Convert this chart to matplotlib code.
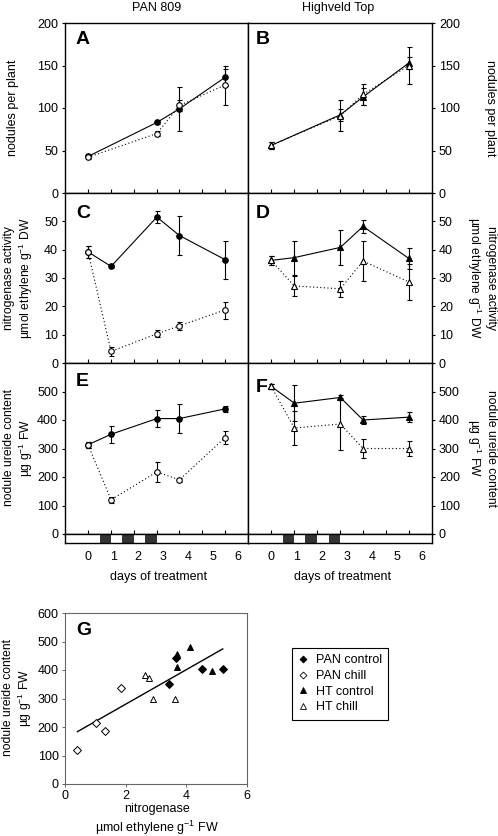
import numpy as np
import matplotlib.pyplot as plt
from matplotlib.lines import Line2D

plt.rcParams['font.family'] = ['Liberation Sans', 'DejaVu Sans']
plt.rcParams['font.size'] = 9
plt.rcParams['mathtext.fontset'] = 'custom'
plt.rcParams['mathtext.rm'] = 'Liberation Sans'
plt.rcParams['mathtext.it'] = 'Liberation Sans:italic'

# sampling days
days = [0, 0.92, 2.75, 3.65, 5.47]
days_nod = [0, 2.75, 3.65, 5.47]
tick_days = [0, 0.92, 1.83, 2.75, 3.65, 4.56, 5.47]
chill_nights = [(0.48, 0.92), (1.36, 1.83), (2.28, 2.75)]
day_labels = [0, 1, 2, 3, 4, 5, 6]

# A / B nodules per plant
pan_nod_ctrl = [43, 83, 99, 136]
pan_nod_ctrl_err = [2, 2, 26, 10]
pan_nod_chill = [42, 70, 103, 127]
pan_nod_chill_err = [2, 3, 7, 23]
ht_nod_ctrl = [56, 92, 113, 153]
ht_nod_ctrl_err = [4, 7, 10, 7]
ht_nod_chill = [56, 91, 116, 150]
ht_nod_chill_err = [4, 18, 12, 22]

# C / D nitrogenase activity
pan_nit_ctrl = [39.2, 34.1, 51.5, 45, 36.5]
pan_nit_ctrl_err = [2, 0.5, 2.2, 7, 6.7]
pan_nit_chill = [39.2, 4.1, 10.3, 13.1, 18.7]
pan_nit_chill_err = [2, 1.5, 1.2, 1.5, 3]
ht_nit_ctrl = [36.2, 37.2, 40.8, 48.2, 36.9]
ht_nit_ctrl_err = [1.5, 6, 6.3, 2.4, 3.8]
ht_nit_chill = [36.2, 27.2, 26.2, 36, 28.6]
ht_nit_chill_err = [1.5, 3.5, 2.8, 7, 6.3]

# E / F nodule ureide content
pan_ure_ctrl = [313, 350, 405, 405, 439]
pan_ure_ctrl_err = [10, 30, 29, 51, 11]
pan_ure_chill = [313, 120, 218, 190, 338]
pan_ure_chill_err = [10, 10, 34, 8, 22]
ht_ure_ctrl = [518, 459, 479, 400, 410]
ht_ure_ctrl_err = [8, 64, 10, 15, 17]
ht_ure_chill = [518, 372, 386, 300, 300]
ht_ure_chill_err = [8, 60, 90, 32, 25]

# G scatter
g_pan_ctrl_x = [3.44, 3.67, 4.53, 5.2]
g_pan_ctrl_y = [352, 441, 405, 405]
g_pan_chill_x = [0.41, 1.03, 1.31, 1.86]
g_pan_chill_y = [118, 213, 187, 338]
g_ht_ctrl_x = [3.7, 3.7, 4.12, 4.86]
g_ht_ctrl_y = [456, 409, 480, 398]
g_ht_chill_x = [2.63, 2.76, 2.89, 3.63]
g_ht_chill_y = [384, 371, 300, 298]

W, H = 498, 836


def box(x0, y0, x1, y1):
    return [x0 / W, 1 - y1 / H, (x1 - x0) / W, (y1 - y0) / H]


def series(ax, x, y, e, marker, filled, ls, z, ms=4):
    ax.errorbar(x, y, yerr=e, fmt='none', ecolor='k', elinewidth=0.8,
                capsize=1.8, capthick=0.8, zorder=z)
    ax.plot(x, y, ls=ls, color='k', lw=0.8, marker=marker, ms=ms,
            mfc='k' if filled else 'white', mec='k', mew=0.8, zorder=z + 1)


fig = plt.figure(figsize=(W / 100, H / 100), dpi=100)

rows = [(23, 193), (193, 363), (363, 534)]
cols = [(65, 248), (248, 432)]
xlim = (-0.92, 6.39)

panels = [
    ('A', 0, 0, days_nod, pan_nod_ctrl, pan_nod_ctrl_err, pan_nod_chill, pan_nod_chill_err, 'o', (0, 200), range(0, 201, 50)),
    ('B', 0, 1, days_nod, ht_nod_ctrl, ht_nod_ctrl_err, ht_nod_chill, ht_nod_chill_err, '^', (0, 200), range(0, 201, 50)),
    ('C', 1, 0, days, pan_nit_ctrl, pan_nit_ctrl_err, pan_nit_chill, pan_nit_chill_err, 'o', (0, 60), range(0, 51, 10)),
    ('D', 1, 1, days, ht_nit_ctrl, ht_nit_ctrl_err, ht_nit_chill, ht_nit_chill_err, '^', (0, 60), range(0, 51, 10)),
    ('E', 2, 0, days, pan_ure_ctrl, pan_ure_ctrl_err, pan_ure_chill, pan_ure_chill_err, 'o', (0, 600), range(0, 501, 100)),
    ('F', 2, 1, days, ht_ure_ctrl, ht_ure_ctrl_err, ht_ure_chill, ht_ure_chill_err, '^', (0, 600), range(0, 501, 100)),
]

letter_pos = {'A': (0.06, 0.95), 'B': (0.04, 0.95), 'C': (0.06, 0.93), 'D': (0.04, 0.93),
              'E': (0.06, 0.94), 'F': (0.04, 0.905)}

for letter, r, c, x, yc, ec, ych, ech, mk, ylim, yt in panels:
    ax = fig.add_axes(box(cols[c][0], rows[r][0], cols[c][1], rows[r][1]))
    ms = 4 if mk == 'o' else 4.5
    series(ax, x, yc, ec, mk, True, '-', 2, ms)
    series(ax, x, ych, ech, mk, False, (0, (1, 2.2)), 4, ms)
    ax.set_xlim(*xlim)
    ax.set_ylim(*ylim)
    ax.set_xticks(tick_days)
    ax.set_yticks(list(yt))
    ax.tick_params(axis='x', direction='in', length=3, width=0.8, labelbottom=False)
    ax.tick_params(axis='y', direction='out', length=2.5, width=0.8, pad=2.5)
    if c == 1:
        ax.yaxis.tick_right()
    for s in ax.spines.values():
        s.set_linewidth(1.0)
    ax.text(letter_pos[letter][0], letter_pos[letter][1], letter, transform=ax.transAxes,
            fontsize=14, fontweight='bold', ha='left', va='top')

# strip with chilling periods and day labels
for c in range(2):
    sax = fig.add_axes(box(cols[c][0], 533.5, cols[c][1], 543))
    sax.set_xlim(*xlim)
    sax.set_ylim(0, 1)
    sax.set_yticks([])
    for a, b in chill_nights:
        sax.axvspan(a, b, color='#333333', lw=0)
    sax.set_xticks(day_labels)
    sax.tick_params(axis='x', length=0, pad=6)
    for s in sax.spines.values():
        s.set_linewidth(1.0)
    fig.text((cols[c][0] + cols[c][1]) / 2 / W + 0.005, 1 - 577 / H, 'days of treatment',
             ha='center', va='center')

fig.text(157 / W, 1 - 8 / H, 'PAN 809', ha='center', va='center')
fig.text(338 / W, 1 - 8 / H, 'Highveld Top', ha='center', va='center')

nit_label = 'nitrogenase activity\n\u00b5mol ethylene g$^{\\mathregular{-1}}$ DW'
ure_label = 'nodule ureide content\n\u00b5g g$^{\\mathregular{-1}}$ FW'
lab_kw = dict(ha='center', va='center', linespacing=1.15, fontsize=8.7)
fig.text(13 / W, 1 - 108 / H, 'nodules per plant', rotation=90, ha='center', va='center')
fig.text(19 / W, 1 - 278 / H, nit_label, rotation=90, **lab_kw)
fig.text(19 / W, 1 - 448 / H, ure_label, rotation=90, **lab_kw)
fig.text(490 / W, 1 - 108 / H, 'nodules per plant', rotation=270, ha='center', va='center')
fig.text(481 / W, 1 - 278 / H, nit_label, rotation=270, **lab_kw)
fig.text(481 / W, 1 - 448 / H, ure_label, rotation=270, **lab_kw)

# panel G
gax = fig.add_axes(box(65, 613, 247, 784))
gray = '#666666'
mk_kw = dict(ls='none', mec='k', mew=0.7, zorder=4)
gax.plot(g_pan_ctrl_x, g_pan_ctrl_y, marker='D', ms=3.8, mfc='k', **mk_kw)
gax.plot(g_pan_chill_x, g_pan_chill_y, marker='D', ms=3.8, mfc='white', **mk_kw)
gax.plot(g_ht_ctrl_x, g_ht_ctrl_y, marker='^', ms=5, mfc='k', **mk_kw)
gax.plot(g_ht_chill_x, g_ht_chill_y, marker='^', ms=5, mfc='white', **mk_kw)

all_x = np.array(g_pan_ctrl_x + g_pan_chill_x + g_ht_ctrl_x + g_ht_chill_x)
all_y = np.array(g_pan_ctrl_y + g_pan_chill_y + g_ht_ctrl_y + g_ht_chill_y)
k, b0 = np.polyfit(all_x, all_y, 1)
xs = np.array([all_x.min(), all_x.max()])
gax.plot(xs, k * xs + b0, color='k', lw=1.0, zorder=3)

gax.set_xlim(0, 6)
gax.set_ylim(0, 600)
gax.set_xticks([0, 2, 4, 6])
gax.set_yticks(range(0, 601, 100))
gax.tick_params(direction='out', length=2, width=0.7, color=gray, pad=2.5)
for s in gax.spines.values():
    s.set_linewidth(0.8)
    s.set_color(gray)
gax.text(0.06, 0.95, 'G', transform=gax.transAxes, fontsize=14, fontweight='bold',
         ha='left', va='top')
fig.text(18 / W, 1 - 698 / H, ure_label, rotation=90, **lab_kw)
fig.text(157 / W, 1 - 820 / H, 'nitrogenase\n\u00b5mol ethylene g$^{\\mathregular{-1}}$ FW',
         ha='center', va='center', linespacing=1.25)

handles = [
    Line2D([], [], ls='none', marker='D', ms=3.5, mfc='k', mec='k', mew=0.6),
    Line2D([], [], ls='none', marker='D', ms=3.5, mfc='white', mec='k', mew=0.6),
    Line2D([], [], ls='none', marker='^', ms=4.5, mfc='k', mec='k', mew=0.6),
    Line2D([], [], ls='none', marker='^', ms=4.5, mfc='white', mec='k', mew=0.6),
]
leg = fig.legend(handles, ['PAN control', 'PAN chill', 'HT control', 'HT chill'],
                 loc='upper left', bbox_to_anchor=(292 / W, 1 - 648 / H), frameon=True,
                 fancybox=False, edgecolor='k', framealpha=1, borderaxespad=0,
                 handlelength=0.8, handletextpad=0.6, labelspacing=0.3, borderpad=0.5,
                 fontsize=9)
leg.get_frame().set_linewidth(0.8)

fig.savefig('out.png', dpi=100)
